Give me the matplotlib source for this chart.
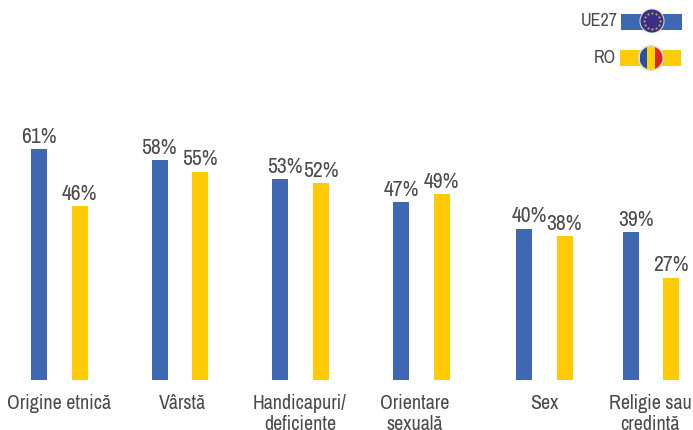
import numpy as np
import matplotlib
matplotlib.use("Agg")
import matplotlib.pyplot as plt
from matplotlib.patches import Circle, Rectangle

categories = ["Origine etnică", "Vârstă", "Handicapuri/\ndeficiente",
              "Orientare\nsexuală", "Sex", "Religie sau\ncredință"]
ue27 = [61, 58, 53, 47, 40, 39]
ro = [46, 55, 52, 49, 38, 27]

BLUE = "#3f68b2"
YELLOW = "#ffcb05"
TEXT = "#4a4a4a"

plt.rcParams["font.family"] = ["Archivo Narrow", "Liberation Sans", "DejaVu Sans"]

# pixel positions of the groups in the 693x430 frame
x_blue = np.array([39, 160, 280, 401, 524, 631])
x_yellow = np.array([80, 200, 321, 442, 565, 671])
x_label = [59, 182, 300, 415, 544, 650]
# value labels are not always centred on their bar
x_val_blue = [39, 159, 285, 401, 529, 636]
x_val_yellow = [79, 200, 321, 441, 564, 671]

fig = plt.figure(figsize=(6.93, 4.30), dpi=100)
ax = fig.add_axes([0, 0, 1, 1])
px = 3.787
ax.set_xlim(0, 693)
ax.set_ylim(-50 / px, 380 / px)
ax.axis("off")

ax.bar(x_blue, ue27, width=16, color=BLUE)
ax.bar(x_yellow, ro, width=16, color=YELLOW)

for x, v in zip(x_val_blue, ue27):
    ax.text(x, v + 0.6, f"{v}%", ha="center", va="bottom", fontsize=15.5, color=TEXT)
for x, v in zip(x_val_yellow, ro):
    ax.text(x, v + 0.6, f"{v}%", ha="center", va="bottom", fontsize=15.5, color=TEXT)

for x, c in zip(x_label, categories):
    ax.text(x, -3.6, c, ha="center", va="top", fontsize=14.4, color=TEXT,
            linespacing=1.18, clip_on=False)

# legend, drawn in pixel coordinates
lg = fig.add_axes([0, 0, 1, 1])
lg.set_xlim(0, 693)
lg.set_ylim(430, 0)
lg.axis("off")
lg.patch.set_alpha(0)
lg.add_patch(Rectangle((621, 14), 61, 16, color=BLUE, lw=0))
lg.add_patch(Rectangle((620, 50), 61, 16, color=YELLOW, lw=0))
lg.text(618, 21, "UE27", ha="right", va="center", fontsize=13, color=TEXT)
lg.text(616, 58, "RO", ha="right", va="center", fontsize=13, color=TEXT)

# EU flag button
lg.add_patch(Circle((652, 21), 12.5, fc="#dcdce4", ec="none", zorder=3))
lg.add_patch(Circle((652, 21), 11.5, fc="#3a2f86", ec="none", zorder=4))
lg.scatter(652 + 8 * np.cos(np.arange(12) * np.pi / 6), 21 + 8 * np.sin(np.arange(12) * np.pi / 6),
           s=2.2, color="#d8a93a", zorder=5, linewidths=0)

# RO flag button
lg.add_patch(Circle((651, 58), 13, fc="#dcdcdc", ec="none", zorder=3))
clip = Circle((651, 58), 11.5, transform=lg.transData)
for x0, col in zip([639.5, 647.2, 654.8], ["#2b4fa3", "#ffd400", "#e0241f"]):
    r = Rectangle((x0, 46), 7.7, 24, color=col, lw=0, zorder=4)
    lg.add_patch(r)
    r.set_clip_path(clip)

fig.savefig("out.png", dpi=100)
